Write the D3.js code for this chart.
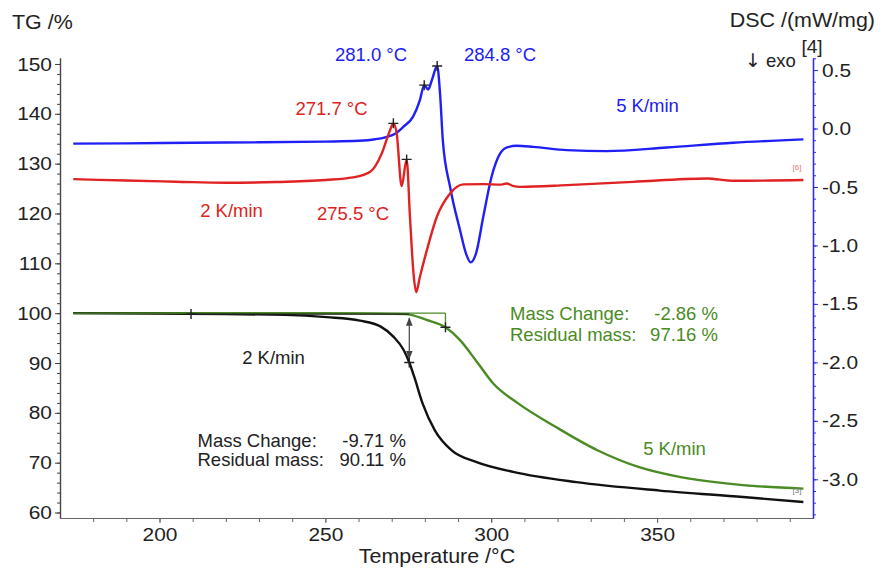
<!DOCTYPE html>
<html><head><meta charset="utf-8">
<script src="https://cdn.jsdelivr.net/npm/d3@7"></script>
<style>
body{margin:0;background:#fff}
svg text{font-family:"Liberation Sans",Arial,sans-serif;}
</style></head><body>
<svg id="c" width="891" height="568"></svg>
<script>
// ---------- data ----------
const tempTicks = [200, 250, 300, 350];
const tgTicks = [60, 70, 80, 90, 100, 110, 120, 130, 140, 150];
const dscTicks = [0.5, 0.0, -0.5, -1.0, -1.5, -2.0, -2.5, -3.0];
const dscTickLabels = ["0.5", "0.0", "-0.5", "-1.0", "-1.5", "-2.0", "-2.5", "-3.0"];

// DSC 5 K/min (blue)
const dsc5T = [174,190,210,230,250,260,265,268.6,271,273.4,276.4,278.5,279.8,281.0,282.1,283.7,284.6,285.4,287.6,290.6,292.4,293.8,295.4,297.6,300.1,302.7,305,307.7,312.7,322.8,334.8,352.9,372.9,394.1];
const dsc5V = [-0.129,-0.127,-0.122,-0.118,-0.112,-0.105,-0.092,-0.071,-0.045,0.012,0.10,0.243,0.371,0.334,0.414,0.534,0.286,-0.099,-0.50,-0.87,-1.07,-1.145,-1.07,-0.755,-0.413,-0.213,-0.16,-0.148,-0.157,-0.185,-0.193,-0.162,-0.122,-0.093];
// DSC 2 K/min (red)
const dsc2T = [174,190,205,220,235,250,258.3,263.5,267.0,269.5,270.5,271.5,273.0,274.5,275.5,276.6,277.4,278.4,280.6,283.6,287.6,291.6,297.6,302.7,304.7,306.5,308.7,322.8,342.8,365.0,373.0,394.1];
const dsc2V = [-0.433,-0.445,-0.455,-0.464,-0.458,-0.44,-0.418,-0.37,-0.213,-0.014,0.044,-0.042,-0.493,-0.264,-0.755,-1.25,-1.40,-1.28,-1.04,-0.755,-0.555,-0.478,-0.476,-0.48,-0.47,-0.49,-0.499,-0.484,-0.456,-0.427,-0.447,-0.441];
// TG 2 K/min (black)
const tg2T = [174,200,220,237.8,250.4,260.4,266.7,270.5,273.6,275.3,276.8,279.3,283.0,288.0,295.6,306.9,325.7,350.8,375.9,394.1];
const tg2V = [100.0,99.9,99.8,99.66,99.2,98.5,97.3,95.3,92.6,90.11,87.2,81.9,76.5,72.5,70.1,68.1,66.1,64.4,63.1,62.1];
// TG 5 K/min (green)
const tg5T = [174,250,274.2,280.5,286.2,290.6,295.6,300.6,308.1,319.4,332.0,344.6,357.1,375.9,394.1];
const tg5V = [100.0,100.0,99.8,98.65,97.16,94.6,90.3,85.9,81.9,77.2,72.5,69.1,67.1,65.5,64.8];

// peak markers
const peaks5T = [279.8, 283.7], peaks5V = [0.371, 0.534];
const peaks2T = [270.5, 274.5], peaks2V = [0.044, -0.264];
const peakLabels5 = ["281.0 °C", "284.8 °C"];
const peakLabels2 = ["271.7 °C", "275.5 °C"];

// mass change evaluations
const step2 = {start: 209.5, end: 275.3, ref: 99.82, residual: 90.11, change: "-9.71 %", resText: "90.11 %"};
const step5 = {start: 174, end: 286.2, ref: 100.02, residual: 97.16, change: "-2.86 %", resText: "97.16 %"};

// ---------- drawing ----------
const svg = d3.select("#c");
const blue = "#2020f6", red = "#e02222", green = "#4b8b24", black = "#111";

const x = d3.scaleLinear().domain([170, 397]).range([60, 813]);
const yTG = d3.scaleLinear().domain([58.9, 151.2]).range([518, 58]);
const yDSC = d3.scaleLinear().domain([-3.331, 0.603]).range([518, 58]);

// axes
const gL = svg.append("g").attr("transform", "translate(60,0)");
gL.append("g").call(d3.axisLeft(yTG).tickValues(d3.range(60, 151, 2)).tickSize(3).tickFormat("").tickSizeOuter(0));
gL.append("g").call(d3.axisLeft(yTG).tickValues(tgTicks).tickSize(5).tickPadding(3).tickSizeOuter(0));
gL.selectAll("path.domain").attr("stroke", "#444").attr("stroke-width", 1.2);
gL.selectAll("line").attr("stroke", "#444");
gL.selectAll("text").attr("font-size", 19).attr("fill", "#222").attr("class", "stretch");

const gB = svg.append("g").attr("transform", "translate(0,518)");
gB.append("g").call(d3.axisBottom(x).tickValues(d3.range(180, 397, 10)).tickSize(4).tickFormat("").tickSizeOuter(0));
gB.append("g").call(d3.axisBottom(x).tickValues(tempTicks).tickSize(5).tickPadding(5).tickSizeOuter(0));
gB.selectAll("path.domain").attr("stroke", "#666").attr("stroke-width", 1.2);
gB.selectAll("line").attr("stroke", "#666");
gB.selectAll("text").attr("font-size", 19).attr("fill", "#222").attr("class", "stretch");

const gR = svg.append("g").attr("transform", "translate(813,0)");
gR.append("g").call(d3.axisRight(yDSC).tickValues(d3.range(-33, 7).map(d => d / 10)).tickSize(3).tickFormat("").tickSizeOuter(0));
gR.append("g").call(d3.axisRight(yDSC).tickValues(dscTicks).tickSize(5).tickPadding(4).tickSizeOuter(0)
  .tickFormat((d, i) => dscTickLabels[i]));
gR.selectAll("path.domain").attr("stroke", "#2b2bff").attr("stroke-width", 1.3);
gR.selectAll("line").attr("stroke", "#2b2bff");
gR.selectAll("text").attr("font-size", 19).attr("fill", "#222").attr("class", "stretch");

// curves
const lineD = d3.line().x(d => x(d[0])).y(d => yDSC(d[1])).curve(d3.curveMonotoneX);
const lineT = d3.line().x(d => x(d[0])).y(d => yTG(d[1])).curve(d3.curveMonotoneX);
const zip = (a, b) => a.map((v, i) => [v, b[i]]);

svg.append("path").attr("d", lineT(zip(tg5T, tg5V))).attr("fill", "none").attr("stroke", green).attr("stroke-width", 2.4);
svg.append("path").attr("d", lineT(zip(tg2T, tg2V))).attr("fill", "none").attr("stroke", black).attr("stroke-width", 2.4);
svg.append("path").attr("d", lineD(zip(dsc5T, dsc5V))).attr("fill", "none").attr("stroke", blue).attr("stroke-width", 2.4);
svg.append("path").attr("d", lineD(zip(dsc2T, dsc2V))).attr("fill", "none").attr("stroke", red).attr("stroke-width", 2.4);

// step evaluations
svg.append("line").attr("x1", x(step5.start)).attr("x2", x(step5.end)).attr("y1", yTG(step5.ref)).attr("y2", yTG(step5.ref))
  .attr("stroke", green).attr("stroke-width", 1.3);
svg.append("line").attr("x1", x(step5.end)).attr("x2", x(step5.end)).attr("y1", yTG(step5.ref)).attr("y2", yTG(step5.residual))
  .attr("stroke", green).attr("stroke-width", 1.3);
svg.append("line").attr("x1", x(step2.start)).attr("x2", x(step2.end)).attr("y1", yTG(step2.ref)).attr("y2", yTG(step2.ref))
  .attr("stroke", "#222").attr("stroke-width", 1.3);

const defs = svg.append("defs");
defs.append("marker").attr("id", "ah").attr("viewBox", "0 0 10 10").attr("refX", 9).attr("refY", 5)
  .attr("markerWidth", 7).attr("markerHeight", 7).attr("orient", "auto-start-reverse")
  .append("path").attr("d", "M0,1L10,5L0,9z").attr("fill", "#444");
svg.append("line").attr("x1", x(step2.end)).attr("x2", x(step2.end))
  .attr("y1", yTG(step2.ref) + 4).attr("y2", yTG(step2.residual) - 4)
  .attr("stroke", "#444").attr("stroke-width", 1.2)
  .attr("marker-start", "url(#ah)").attr("marker-end", "url(#ah)");

// crosses
const cross = "M-5,0H5M0,-5V5";
function crosses(pts) {
  svg.append("g").selectAll("path").data(pts).join("path")
    .attr("d", cross).attr("transform", d => `translate(${d[0]},${d[1]})`)
    .attr("stroke", "#222").attr("stroke-width", 1.4).attr("fill", "none");
}
crosses(zip(peaks5T, peaks5V).map(d => [x(d[0]), yDSC(d[1])]));
crosses(zip(peaks2T, peaks2V).map(d => [x(d[0]), yDSC(d[1])]));
crosses([[x(step2.start), yTG(step2.ref)], [x(step2.end), yTG(step2.residual)], [x(step5.end), yTG(step5.residual)]]);

// texts
function txt(s, xx, yy, opts = {}) {
  const t = svg.append("text").attr("x", xx).attr("y", yy).text(s)
    .attr("font-size", opts.size || 18.5).attr("fill", opts.fill || "#222")
    .attr("text-anchor", opts.anchor || "start");
  if (opts.stretch) t.attr("class", "stretch");
  return t;
}
txt("TG /%", 12, 29, {size: 19.5, stretch: true});
txt("DSC /(mW/mg)", 875, 27, {size: 19.5, anchor: "end", stretch: true});
txt("[4]", 812, 53, {size: 19, anchor: "middle"});
const exo = txt("", 745, 67, {size: 18.5});
exo.append("tspan").attr("font-family", "DejaVu Sans").attr("font-size", 19).text("\u2193");
exo.append("tspan").text(" exo");
txt("Temperature /°C", 437, 563, {size: 19.5, anchor: "middle", stretch: true});

txt(peakLabels5[0], 371, 61, {fill: blue, anchor: "middle"});
txt(peakLabels5[1], 500, 61, {fill: blue, anchor: "middle"});
txt(peakLabels2[0], 331.5, 115, {fill: red, anchor: "middle"});
txt(peakLabels2[1], 353, 220, {fill: red, anchor: "middle"});
txt("2 K/min", 231.5, 217, {fill: red, anchor: "middle"});
txt("5 K/min", 647.5, 112, {fill: blue, anchor: "middle"});
txt("2 K/min", 273.5, 364, {fill: "#222", anchor: "middle"});
txt("5 K/min", 674.5, 455, {fill: green, anchor: "middle"});

txt("Mass Change:", 510, 320, {fill: green});
txt(step5.change, 718, 320, {fill: green, anchor: "end"});
txt("Residual mass:", 510, 341, {fill: green});
txt(step5.resText, 718, 341, {fill: green, anchor: "end"});

txt("Mass Change:", 197.5, 447, {fill: "#222"});
txt(step2.change, 406, 447, {fill: "#222", anchor: "end"});
txt("Residual mass:", 197.5, 466, {fill: "#222"});
txt(step2.resText, 406, 466, {fill: "#222", anchor: "end"});

txt("[6]", 797, 170, {size: 8, fill: "#e77", anchor: "middle"});
txt("[3]", 797, 493, {size: 8, fill: "#777", anchor: "middle"});

// horizontal stretch of axis text as in the reference
svg.selectAll("text.stretch").each(function () {
  const a = getComputedStyle(this).textAnchor;
  this.style.transformBox = "fill-box";
  this.style.transformOrigin = a === "end" ? "right center" : a === "middle" ? "center" : "left center";
  this.style.transform = "scale(1.1,1)";
});
</script>
</body></html>
